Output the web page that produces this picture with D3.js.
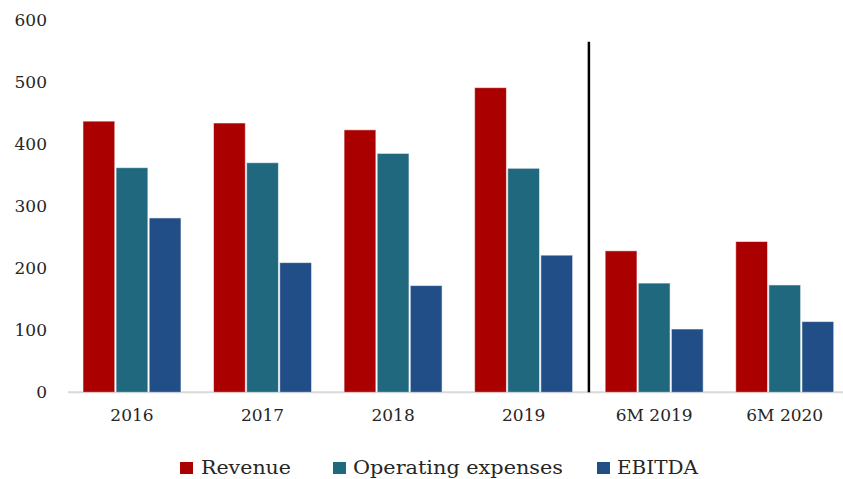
<!DOCTYPE html>
<html>
<head>
<meta charset="utf-8">
<script src="https://cdn.jsdelivr.net/npm/d3@7"></script>
<style>
  html, body { margin: 0; padding: 0; background: #fff; }
  svg { display: block; }
  text { font-family: "DejaVu Serif", "Liberation Serif", serif; fill: #262626; }
</style>
</head>
<body>
<svg id="chart" width="843" height="479"></svg>
<script>
// Periods shown on the x axis
const categories = ["2016", "2017", "2018", "2019", "6M 2019", "6M 2020"];
// Series names (legend order)
const seriesNames = ["Revenue", "Operating expenses", "EBITDA"];
// Values per series, aligned with categories
const revenue = [437, 434, 423, 491, 228, 243];
const operatingExpenses = [362, 370, 385, 361, 176, 173];
const ebitda = [281, 209, 172, 221, 102, 114];
// Y axis tick values
const yTicks = [0, 100, 200, 300, 400, 500, 600];

const seriesValues = [revenue, operatingExpenses, ebitda];
const colors = ["#AA0000", "#1F687D", "#214E86"];

const svg = d3.select("#chart");

const x0 = d3.scaleBand().domain(categories).range([66.7, 850]).padding(0);
const groupWidth = 98;
const x1 = d3.scaleBand().domain(seriesNames).range([0, groupWidth]).paddingInner(0.04);
const y = d3.scaleLinear().domain([0, 600]).range([392.3, 20]);

// Baseline
svg.append("line")
  .attr("x1", 68).attr("x2", 843)
  .attr("y1", y(0)).attr("y2", y(0))
  .attr("stroke", "#d9d9d9").attr("stroke-width", 2);

// Y axis labels (no axis line, no ticks)
const yAxis = d3.axisLeft(y).tickValues(yTicks).tickSize(0).tickPadding(0);
svg.append("g")
  .attr("transform", "translate(47,0)")
  .call(yAxis)
  .call(g => g.select(".domain").remove())
  .call(g => g.selectAll("text")
    .attr("font-family", "DejaVu Serif, Liberation Serif, serif")
    .attr("font-size", 17)
    .attr("fill", "#262626"));

// X axis labels
const xAxis = d3.axisBottom(x0).tickSize(0).tickPadding(0);
svg.append("g")
  .attr("transform", `translate(0,${y(0) + 17})`)
  .call(xAxis)
  .call(g => g.select(".domain").remove())
  .call(g => g.selectAll("text")
    .attr("font-family", "DejaVu Serif, Liberation Serif, serif")
    .attr("font-size", 17)
    .attr("fill", "#262626"));

// Bars
const groups = svg.append("g").selectAll("g")
  .data(categories)
  .join("g")
  .attr("transform", d => `translate(${x0(d) + x0.bandwidth() / 2 - groupWidth / 2},0)`);

groups.selectAll("rect")
  .data((c, i) => seriesNames.map((s, j) => ({ s, j, v: seriesValues[j][i] })))
  .join("rect")
  .attr("x", d => x1(d.s))
  .attr("width", x1.bandwidth())
  .attr("y", d => y(d.v))
  .attr("height", d => y(0) - y(d.v))
  .attr("fill", d => colors[d.j])
  .attr("stroke", "rgba(255,255,255,0.55)")
  .attr("stroke-width", 1);

// Separator between full years and half-year periods
const sepX = (x0("2019") + x0.bandwidth() / 2 + groupWidth / 2 + x0("6M 2019") + x0.bandwidth() / 2 - groupWidth / 2) / 2;
svg.append("line")
  .attr("x1", sepX).attr("x2", sepX)
  .attr("y1", y(565)).attr("y2", y(0))
  .attr("stroke", "#000").attr("stroke-width", 2.5);

// Legend
const legendItems = [
  { name: "Revenue", sx: 180, tx: 201, len: 90 },
  { name: "Operating expenses", sx: 333, tx: 353, len: 210 },
  { name: "EBITDA", sx: 597, tx: 617, len: 81 }
];
const legend = svg.append("g");
legendItems.forEach((it, i) => {
  legend.append("rect")
    .attr("x", it.sx).attr("y", 462)
    .attr("width", 13).attr("height", 12)
    .attr("fill", colors[i]);
  legend.append("text")
    .attr("x", it.tx).attr("y", 474)
    .attr("font-size", 18)
    .attr("textLength", it.len)
    .attr("lengthAdjust", "spacingAndGlyphs")
    .text(it.name);
});
</script>
</body>
</html>
